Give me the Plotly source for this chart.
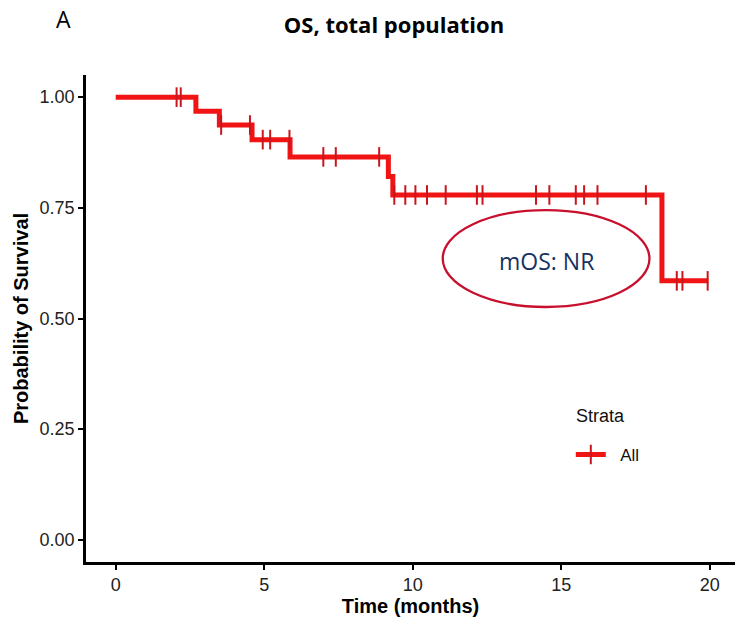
import numpy as np
import plotly.graph_objects as go

# ---- data ----
event_times = [2.70, 3.49, 4.59, 5.87, 9.18, 9.33, 18.39]
surv_after = [0.968, 0.937, 0.904, 0.865, 0.821, 0.779, 0.585]
censor_times = [2.05, 2.19, 3.55, 4.52, 4.95, 5.20, 5.85, 6.99, 7.41, 8.87,
                9.38, 9.75, 10.09, 10.48, 11.11, 12.16, 12.35, 14.15, 14.60,
                15.49, 15.77, 16.22, 17.85, 18.89, 19.08, 19.93]
end_time = 19.95
x_ticks = [0, 5, 10, 15, 20]
y_ticks = [0.0, 0.25, 0.5, 0.75, 1.0]
y_tick_labels = ["0.00", "0.25", "0.50", "0.75", "1.00"]
strata_name = "All"

LINE_RED = "#f01414"
MARK_RED = "#c8161d"

# step function
step_x = [0.0] + event_times + [end_time]
step_y = [1.0] + surv_after + [surv_after[-1]]
ev = np.array(event_times)
lv = np.array([1.0] + surv_after)
cens_y = [float(lv[np.searchsorted(ev, t, side="right")]) for t in censor_times]

fig = go.Figure()
fig.add_trace(go.Scatter(x=step_x, y=step_y, mode="lines", line_shape="hv",
                         line=dict(color=LINE_RED, width=5), showlegend=False,
                         hoverinfo="skip"))
fig.add_trace(go.Scatter(x=censor_times, y=cens_y, mode="markers",
                         marker=dict(symbol="line-ns", size=14, color=MARK_RED,
                                     line=dict(color=MARK_RED, width=2)),
                         showlegend=False))
# legend entry
fig.add_trace(go.Scatter(x=[None], y=[None], mode="lines+markers",
                         name="\u00a0\u00a0" + strata_name,
                         line=dict(color=LINE_RED, width=5),
                         marker=dict(symbol="line-ns", size=14, color=MARK_RED,
                                     line=dict(color=MARK_RED, width=2))))

axis_font = dict(family="Liberation Sans, Arial, sans-serif", size=18, color="#222222")
title_font = dict(family="Liberation Sans, Arial, sans-serif", size=20, color="black")

fig.update_layout(
    width=735, height=623,
    margin=dict(l=86, r=0, t=75, b=61),
    plot_bgcolor="white", paper_bgcolor="white",
    title=dict(text="<b>OS, total population</b>", xref="container", x=0.536,
               xanchor="center", yref="container", y=0.959, yanchor="middle",
               font=dict(family="Open Sans, sans-serif", size=22, color="#000000")),
    xaxis=dict(range=[-1, 20.85], tickvals=x_ticks, showgrid=False, zeroline=False,
               automargin=False,
               showline=True, linecolor="black", linewidth=2.5,
               ticks="outside", ticklen=5, tickwidth=1.5, tickcolor="black",
               tickfont=axis_font,
               title=dict(text="<b>Time (months)</b>", standoff=4, font=title_font)),
    yaxis=dict(range=[-0.05, 1.05], tickvals=y_ticks, ticktext=y_tick_labels,
               showgrid=False, zeroline=False, automargin=False,
               showline=True, linecolor="black", linewidth=2.5,
               ticks="outside", ticklen=5, tickwidth=1.5, tickcolor="black",
               tickfont=axis_font,
               title=dict(text="<b>Probability of Survival</b>", standoff=6, font=title_font)),
    legend=dict(x=0.747, y=0.2197, xanchor="left", yanchor="middle",
                font=dict(family="Liberation Sans, Arial, sans-serif", size=17, color="#111111"),
                bgcolor="rgba(0,0,0,0)"),
    shapes=[dict(type="circle", xref="x", yref="y", x0=11.01, x1=17.97, y0=0.526, y1=0.745,
                 line=dict(color="#c8102e", width=2.3), fillcolor="rgba(0,0,0,0)", layer="above")],
    annotations=[
        dict(text="mOS: NR", x=14.49, y=0.63, xref="x", yref="y", showarrow=False,
             font=dict(family="Open Sans, sans-serif", size=23, color="#17325f")),
        dict(text="Strata", x=0.752, y=0.2998, xref="paper", yref="paper", showarrow=False,
             xanchor="left", yanchor="middle",
             font=dict(family="Liberation Sans, Arial, sans-serif", size=18, color="#111111")),
        dict(text="A", x=-0.0354, y=1.1156, xref="paper", yref="paper", showarrow=False,
             xanchor="center", yanchor="middle",
             font=dict(family="Open Sans, sans-serif", size=23, color="#000000")),
    ],
)

fig.write_html("out.html", config={"displayModeBar": False},
               post_script="document.body.style.margin='0';document.body.style.overflow='hidden';")
